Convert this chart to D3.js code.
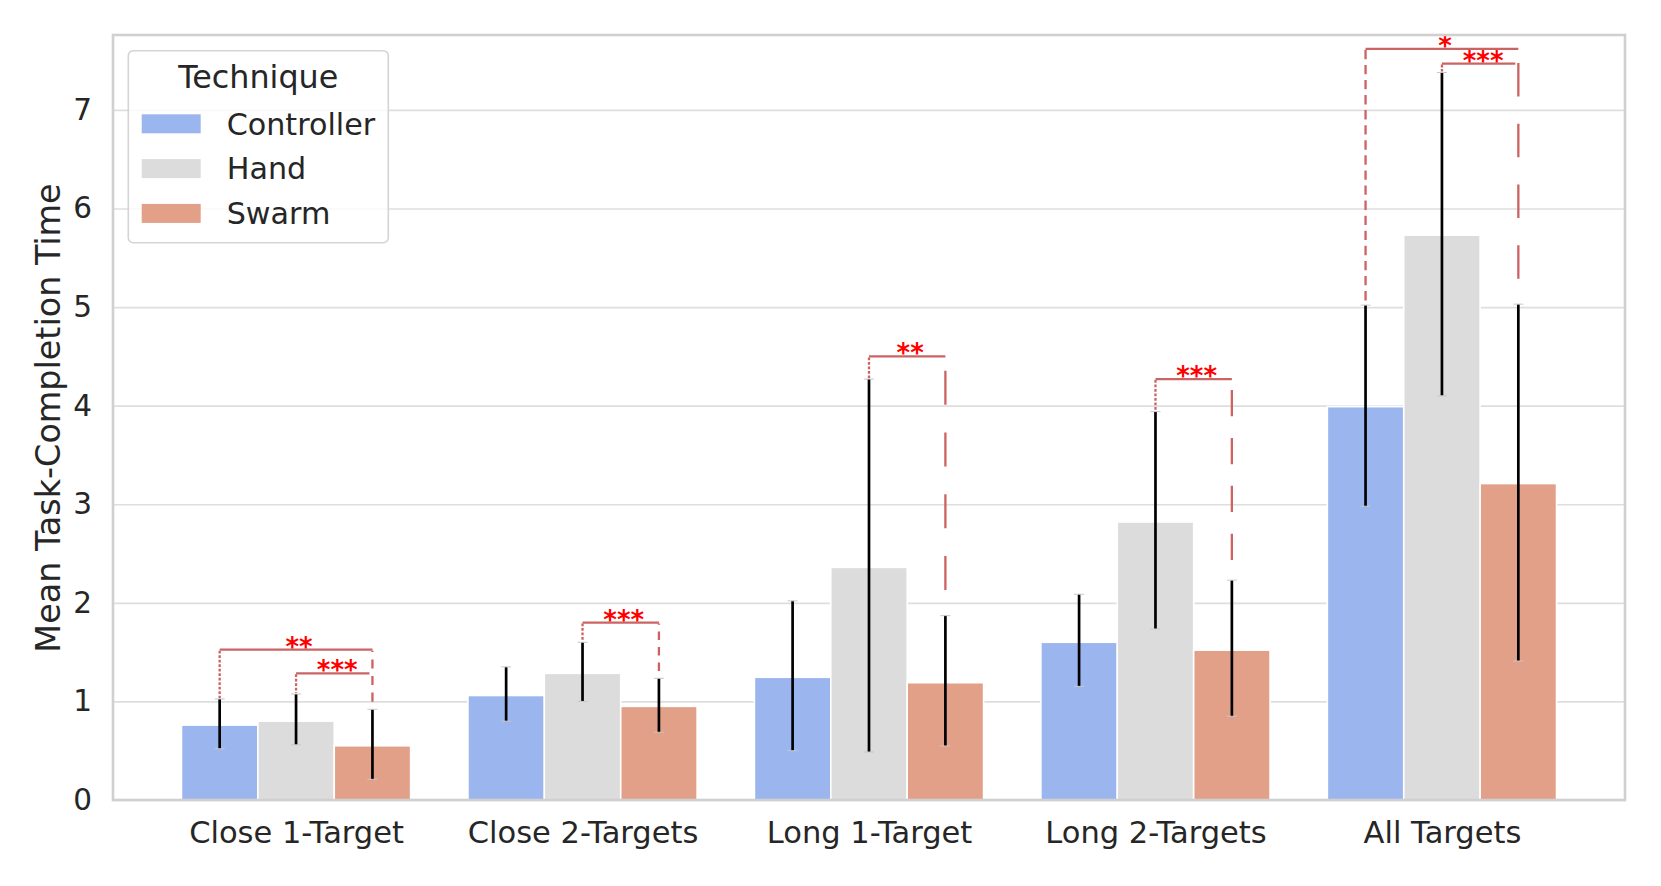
<!DOCTYPE html>
<html>
<head>
<meta charset="utf-8">
<script src="https://cdn.jsdelivr.net/npm/d3@7"></script>
<style>
  html, body { margin: 0; padding: 0; background: #fff; }
  svg { display: block; font-family: "DejaVu Sans", sans-serif; }
</style>
</head>
<body>
<svg id="chart" width="1661" height="886"></svg>
<script>
// ---------------- data ----------------
const categories = ["Close 1-Target", "Close 2-Targets", "Long 1-Target", "Long 2-Targets", "All Targets"];
const techniques = ["Controller", "Hand", "Swarm"];

const controllerMean = [0.76, 1.06, 1.245, 1.60, 3.99];
const controllerLow  = [0.52, 0.80, 0.50, 1.153, 2.98];
const controllerHigh = [1.025, 1.35, 2.02, 2.087, 5.02];

const handMean = [0.80, 1.285, 2.36, 2.82, 5.73];
const handLow  = [0.56, 1.00, 0.487, 1.735, 4.10];
const handHigh = [1.075, 1.60, 4.27, 3.94, 7.38];

const swarmMean = [0.55, 0.95, 1.19, 1.52, 3.21];
const swarmLow  = [0.21, 0.687, 0.548, 0.85, 1.41];
const swarmHigh = [0.92, 1.235, 1.87, 2.23, 5.03];

const yTicks = [0, 1, 2, 3, 4, 5, 6, 7];

// significance brackets: [category index, from technique, to technique, level, label]
const brackets = [
  [0, 0, 2, 1.525, "**"],
  [0, 1, 2, 1.285, "***"],
  [1, 1, 2, 1.80, "***"],
  [2, 1, 2, 4.50, "**"],
  [3, 1, 2, 4.27, "***"],
  [4, 0, 2, 7.62, "*"],
  [4, 1, 2, 7.47, "***"]
];

// ---------------- layout ----------------
const colors = ["#9bb5ee", "#dcdcdc", "#e3a088"];
const L = 113, R = 1625, T = 35, B = 800;
const svg = d3.select("#chart");

const x = d3.scaleLinear().domain([-0.639, 4.639]).range([L, R]);
const y = d3.scaleLinear().domain([0, 7.76]).range([B, T]);
const hueW = 0.8 / techniques.length;

const means = [controllerMean, handMean, swarmMean];
const lows = [controllerLow, handLow, swarmLow];
const highs = [controllerHigh, handHigh, swarmHigh];

const rows = [];
categories.forEach((c, ci) => {
  techniques.forEach((t, ti) => {
    rows.push({ ci, ti, mean: means[ti][ci], lo: lows[ti][ci], hi: highs[ti][ci],
                xc: ci - 0.4 + hueW * (ti + 0.5) });
  });
});

// grid
const gGrid = svg.append("g").attr("transform", `translate(${L},0)`)
  .call(d3.axisLeft(y).tickValues(yTicks).tickSize(-(R - L)).tickFormat(""));
gGrid.select(".domain").remove();
gGrid.selectAll("line").attr("stroke", "#dedede").attr("stroke-width", 1.7);

// bars
svg.append("g").selectAll("rect").data(rows).join("rect")
  .attr("x", d => x(d.xc - hueW / 2))
  .attr("width", d => x(hueW) - x(0))
  .attr("y", d => y(d.mean))
  .attr("height", d => y(0) - y(d.mean))
  .attr("fill", d => colors[d.ti])
  .attr("stroke", "#fff").attr("stroke-width", 1.6);

// error bars
const gErr = svg.append("g");
gErr.selectAll("line.err").data(rows).join("line").attr("class", "err")
  .attr("x1", d => x(d.xc)).attr("x2", d => x(d.xc))
  .attr("y1", d => y(d.lo)).attr("y2", d => y(d.hi))
  .attr("stroke", "#000").attr("stroke-width", 2.7);
["lo", "hi"].forEach(k => {
  gErr.selectAll("line.cap" + k).data(rows).join("line").attr("class", "cap" + k)
    .attr("x1", d => x(d.xc) - 5).attr("x2", d => x(d.xc) + 5)
    .attr("y1", d => y(d[k])).attr("y2", d => y(d[k]))
    .attr("stroke", "#c8c8c8").attr("stroke-width", 1);
});

// significance brackets
const bColor = "#cc6363";
const gB = svg.append("g");
brackets.forEach((b, bi) => {
  const [ci, a, c, lvl, label] = b;
  const xa = x(ci - 0.4 + hueW * (a + 0.5));
  const xc = x(ci - 0.4 + hueW * (c + 0.5));
  const yb = y(lvl);
  const shared = brackets.some((o, oi) => oi !== bi && o[0] === ci && o[2] === c && o[3] > lvl);
  const xEnd = shared ? xc - 3 : xc;
  gB.append("line").attr("x1", xa).attr("x2", xEnd).attr("y1", yb).attr("y2", yb)
    .attr("stroke", bColor).attr("stroke-width", 2.2);
  // left vertical
  const yTopA = y(highs[a][ci]);
  const lenA = yTopA - yb;
  const pA = Math.max(4.5, lenA / 17);
  gB.append("line").attr("x1", xa).attr("x2", xa).attr("y1", yb + 1).attr("y2", yTopA - 1)
    .attr("stroke", bColor).attr("stroke-width", 2.3)
    .attr("stroke-dasharray", `${(pA * 0.62).toFixed(2)},${(pA * 0.38).toFixed(2)}`);
  // right vertical
  if (!shared) {
    const yTopC = y(highs[c][ci]);
    const lenC = yTopC - yb;
    const pC = lenC > 120 ? lenC / 4.2 : lenC / 3.6;
    gB.append("line").attr("x1", xc).attr("x2", xc).attr("y1", yTopC - 1).attr("y2", yb + 1)
      .attr("stroke", bColor).attr("stroke-width", 2.3)
      .attr("stroke-dasharray", `${(pC * 0.55).toFixed(2)},${(pC * 0.45).toFixed(2)}`)
      .attr("stroke-dashoffset", (pC * 0.6).toFixed(2));
  }
  gB.append("text").attr("x", (xa + xc) / 2 + 3).attr("y", yb + 6)
    .attr("text-anchor", "middle").attr("fill", "#ff0000")
    .attr("font-size", 26).attr("font-weight", "bold").text(label);
});

// spines
svg.append("rect").attr("x", L).attr("y", T).attr("width", R - L).attr("height", B - T)
  .attr("fill", "none").attr("stroke", "#d0d0d0").attr("stroke-width", 2.6);

// y axis tick labels
const gY = svg.append("g").attr("transform", `translate(${L},0)`)
  .call(d3.axisLeft(y).tickValues(yTicks).tickSize(0).tickPadding(21).tickFormat(d3.format("d")));
gY.select(".domain").remove();
gY.selectAll("text").attr("font-size", 29.5).attr("fill", "#262626")
  .attr("font-family", "DejaVu Sans");

// x axis tick labels
const gX = svg.append("g").attr("transform", `translate(0,${B})`)
  .call(d3.axisBottom(x).tickValues(d3.range(categories.length)).tickSize(0).tickPadding(21)
        .tickFormat(i => categories[i]));
gX.select(".domain").remove();
gX.selectAll("text").attr("font-size", 30.5).attr("fill", "#262626")
  .attr("font-family", "DejaVu Sans");

// y axis label
svg.append("text")
  .attr("transform", `translate(60,${(186 + 654) / 2 - 2}) rotate(-90)`)
  .attr("text-anchor", "middle").attr("font-size", 33.4).attr("fill", "#262626")
  .text("Mean Task-Completion Time");

// legend
const lg = svg.append("g");
lg.append("rect").attr("x", 128.3).attr("y", 50.7).attr("width", 260).attr("height", 192)
  .attr("rx", 5).attr("fill", "#fff").attr("fill-opacity", 0.8)
  .attr("stroke", "#d4d4d4").attr("stroke-width", 1.6);
lg.append("text").attr("x", 258.3).attr("y", 88).attr("text-anchor", "middle")
  .attr("font-size", 31.8).attr("fill", "#262626").text("Technique");
techniques.forEach((t, i) => {
  const cy = 123.8 + i * 44.8;
  lg.append("rect").attr("x", 141.7).attr("y", cy - 9.5).attr("width", 59).attr("height", 19)
    .attr("fill", colors[i]);
  lg.append("text").attr("x", 226.7).attr("y", cy + 10.8)
    .attr("font-size", 30.2).attr("fill", "#262626").text(t);
});
</script>
</body>
</html>
